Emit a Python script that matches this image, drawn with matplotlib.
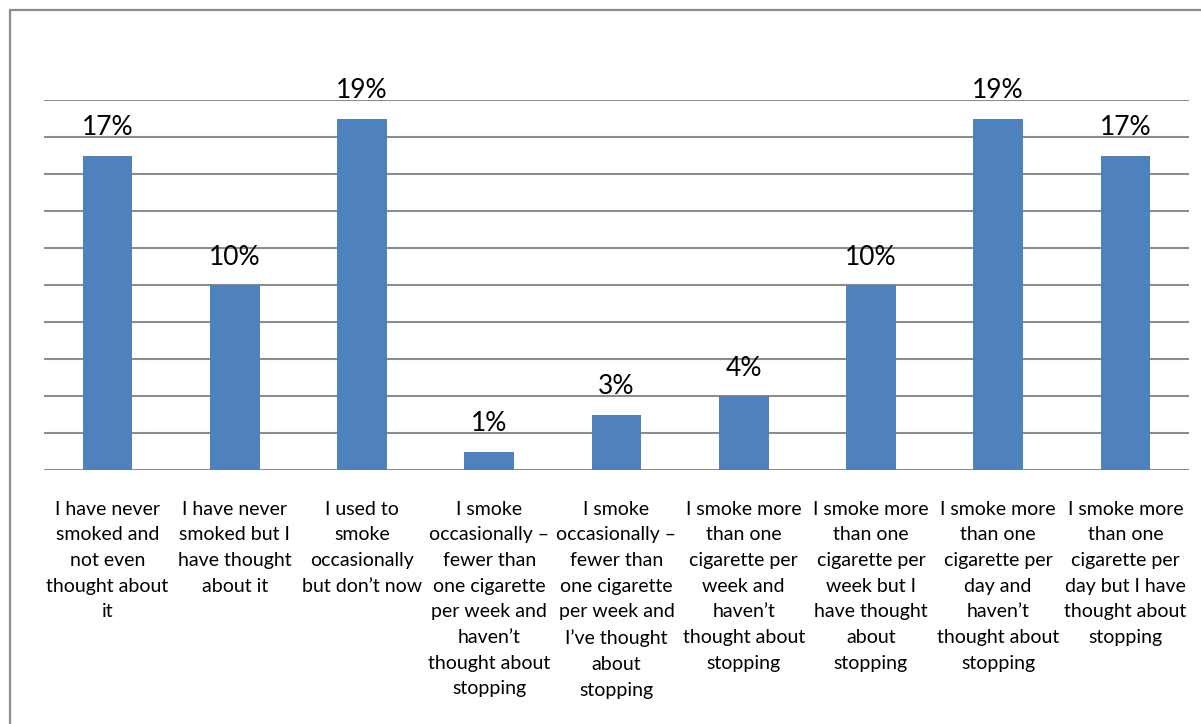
import matplotlib
matplotlib.use("Agg")
import matplotlib.pyplot as plt
from matplotlib.patches import Rectangle

plt.rcParams['font.family'] = ['Lato', 'DejaVu Sans']

categories = [
    "I have never\nsmoked and\nnot even\nthought about\nit",
    "I have never\nsmoked but I\nhave thought\nabout it",
    "I used to\nsmoke\noccasionally\nbut don\u2019t now",
    "I smoke\noccasionally \u2013\nfewer than\none cigarette\nper week and\nhaven\u2019t\nthought about\nstopping",
    "I smoke\noccasionally \u2013\nfewer than\none cigarette\nper week and\nI\u2019ve thought\nabout\nstopping",
    "I smoke more\nthan one\ncigarette per\nweek and\nhaven\u2019t\nthought about\nstopping",
    "I smoke more\nthan one\ncigarette per\nweek but I\nhave thought\nabout\nstopping",
    "I smoke more\nthan one\ncigarette per\nday and\nhaven\u2019t\nthought about\nstopping",
    "I smoke more\nthan one\ncigarette per\nday but I have\nthought about\nstopping",
]
values = [17, 10, 19, 1, 3, 4, 10, 19, 17]
value_labels = ["17%", "10%", "19%", "1%", "3%", "4%", "10%", "19%", "17%"]

W, H = 1201, 724
fig = plt.figure(figsize=(W / 100, H / 100), dpi=100)

# outer chart frame (cut off at right and bottom)
fig.patches.append(Rectangle((10 / W, -0.1), 1.2, 1 - 10 / H + 0.1,
                             transform=fig.transFigure, fill=False,
                             edgecolor="#8c8c8c", linewidth=1.6))

ax = fig.add_axes([44 / W, 1 - 470 / H, (1189 - 44) / W, (470 - 100) / H])

x = list(range(len(values)))
ax.bar(x, values, width=0.39, color="#4F81BD", zorder=2)
ax.set_xlim(-0.5, len(values) - 0.5)
ax.set_ylim(0, 20)

ax.set_yticks(range(0, 21, 2))
ax.yaxis.grid(True, color="#8c8c8c", linewidth=1.5, zorder=1)
ax.tick_params(axis="y", left=False, labelleft=False)
ax.tick_params(axis="x", length=0, pad=22)
ax.set_xticks(x)
ax.set_xticklabels(categories, fontsize=14, linespacing=1.62, va="top")

for s in ax.spines.values():
    s.set_visible(False)
ax.set_axisbelow(True)

for xi, v, lab in zip(x, values, value_labels):
    ax.annotate(lab, (xi, v), xytext=(0, 11), textcoords="offset points",
                ha="center", va="bottom", fontsize=19)

fig.savefig("out.png", dpi=100)
